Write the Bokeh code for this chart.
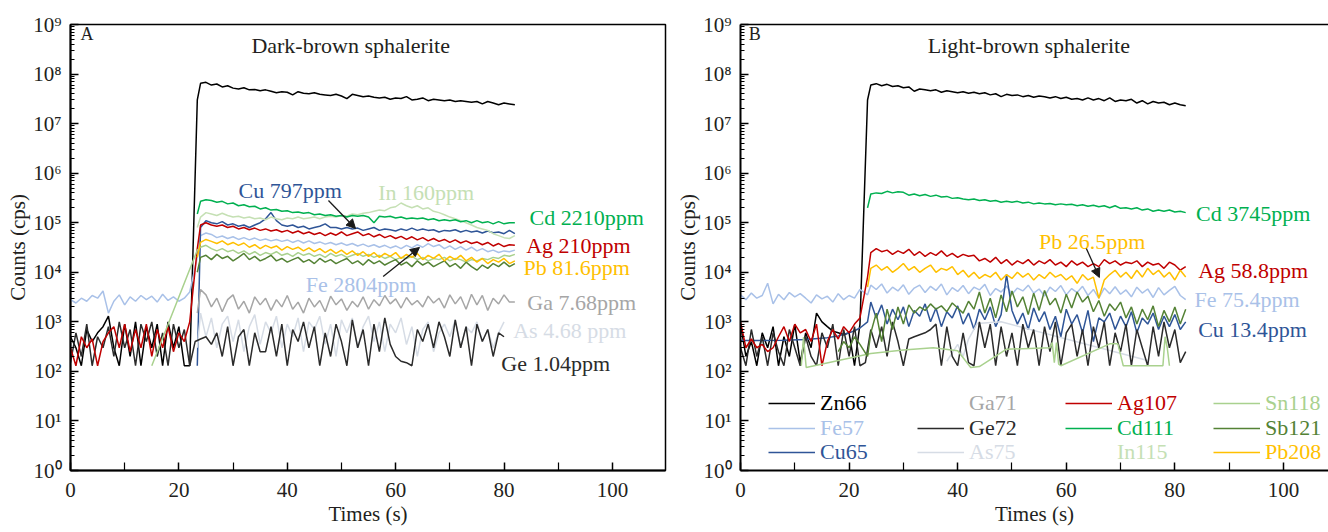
from bokeh.plotting import figure
from bokeh.layouts import row
from bokeh.models import (FixedTicker, Label, Arrow, NormalHead, Legend, LegendItem,
                          LinearAxis, Range1d)
from bokeh.embed import file_html
from bokeh.resources import INLINE

FONT = "'Liberation Serif'"
TXT = "#231f20"

# ---------------- colours ----------------
C_ZN = "#000000"; C_FE = "#a9c1e8"; C_CU = "#2f5597"; C_GA = "#a6a6a6"
C_GE = "#2b2b2b"; C_AS = "#d6dce5"; C_AG = "#c00000"; C_CD = "#00b050"
C_IN = "#c5e0b4"; C_SN = "#a9d18e"; C_SB = "#548235"; C_PB = "#ffc000"

# ---------------- time bases (s) ----------------
t_bg = list(range(0, 23))                      # gas blank 0..22 s
t_sig = [23.4] + list(range(24, 83))           # ablation 23.4..82 s
t_full = t_bg + t_sig

# ================= Panel A: dark-brown sphalerite =================
zn66_a = [500, 300, 130, 700, 400, 600, 800, 1300, 300, 130,
          900, 200, 1000, 130, 800, 300, 900, 130, 1000, 300,
          800, 130, 130,
          3.0e7, 6.5e7, 6.8e7, 6.0e7, 6.3e7, 5.5e7, 5.8e7, 5.2e7, 5.0e7, 5.3e7,
          4.8e7, 4.9e7, 4.6e7, 4.8e7, 4.5e7, 4.2e7, 4.4e7, 4.3e7, 3.8e7, 4.4e7,
          4.1e7, 4.0e7, 4.2e7, 3.9e7, 3.8e7, 3.7e7, 3.9e7, 3.6e7, 3.2e7, 3.9e7,
          3.7e7, 3.5e7, 3.6e7, 3.4e7, 3.3e7, 3.4e7, 3.1e7, 3.3e7, 3.2e7, 3.5e7,
          3.0e7, 3.1e7, 3.3e7, 2.9e7, 3.1e7, 3.0e7, 2.9e7, 3.0e7, 2.8e7, 2.9e7,
          2.8e7, 2.7e7, 2.8e7, 2.5e7, 2.8e7, 2.6e7, 2.4e7, 2.6e7, 2.5e7, 2.4e7]
fe57_a = [2800, 2400, 3000, 2600, 3400, 3000, 4200, 1500, 2600, 3500,
          2200, 3200, 2600, 3400, 2800, 3300, 2500, 3600, 2700, 3200,
          2600, 3000, 4000,
          2.0e4, 5.5e4, 6.2e4, 5.8e4, 5.0e4, 5.4e4, 4.8e4, 5.2e4, 4.6e4, 5.0e4,
          4.5e4, 4.9e4, 4.4e4, 4.7e4, 4.3e4, 4.6e4, 4.2e4, 4.5e4, 4.0e4, 4.4e4,
          3.9e4, 4.3e4, 3.8e4, 4.1e4, 3.7e4, 4.0e4, 3.6e4, 3.9e4, 3.5e4, 3.8e4,
          3.4e4, 3.7e4, 3.3e4, 3.6e4, 3.2e4, 3.5e4, 3.1e4, 3.4e4, 3.0e4, 3.5e4,
          3.1e4, 3.6e4, 3.2e4, 3.8e4, 3.3e4, 3.6e4, 3.0e4, 3.4e4, 2.9e4, 3.3e4,
          2.8e4, 3.2e4, 2.7e4, 3.0e4, 2.6e4, 2.8e4, 2.5e4, 2.7e4, 2.6e4, 2.8e4]
cu65_a = [130, 8.0e4, 1.1e5, 1.0e5, 9.5e4, 1.05e5, 9.0e4, 9.5e4, 8.5e4, 9.0e4,
          8.0e4, 9.0e4, 1.0e5, 1.2e5, 1.6e5, 1.1e5, 9.0e4, 8.5e4, 9.0e4, 8.0e4,
          8.5e4, 7.5e4, 8.0e4, 8.5e4, 9.5e4, 8.0e4, 8.0e4, 7.5e4, 8.0e4, 7.5e4,
          7.8e4, 7.0e4, 7.5e4, 8.0e4, 7.0e4, 7.5e4, 7.2e4, 6.8e4, 7.5e4, 7.0e4,
          7.8e4, 7.0e4, 7.5e4, 7.0e4, 7.2e4, 6.5e4, 7.0e4, 6.8e4, 7.2e4, 6.5e4,
          7.0e4, 6.5e4, 6.8e4, 6.2e4, 6.8e4, 6.3e4, 6.5e4, 6.0e4, 7.0e4, 6.0e4]
ga71_a = [1500, 4500, 3500, 2000, 3000, 1600, 2800, 3500, 1800, 2600,
          1500, 3200, 2200, 3000, 1700, 2800, 2000, 3400, 1800, 2500,
          1500, 3000, 2000, 2700, 1600, 3300, 2200, 2900, 1700, 2600,
          2000, 3200, 1800, 2800, 2100, 3400, 2300, 2900, 1900, 3100,
          2200, 2700, 2000, 3300, 2400, 3000, 1900, 3500, 2300, 3200,
          1800, 3600, 2200, 3400, 1700, 3000, 2300, 3500, 2500, 2500]
t_ge_a = list(range(0, 81))
ge72_a = [150, 600, 200, 900, 130, 500, 300, 800, 200, 1000,
          300, 700, 130, 900, 400, 1000, 200, 600, 130, 900,
          300, 700, 130, 400, 450, 500, 350, 600, 200, 800,
          130, 500, 700, 130, 600, 250, 250, 800, 200, 900,
          130, 700, 400, 1000, 300, 800, 130, 600, 200, 900,
          400, 130, 1100, 300, 700, 130, 900, 250, 1200, 350,
          200, 160, 150, 130, 700, 400, 900, 300, 1000, 500,
          200, 1100, 300, 800, 130, 900, 400, 700, 200, 600,
          500]
t_as_a = [23.4] + list(range(24, 81))
as75_a = [300, 1500, 500, 1200, 300, 900, 1300, 400, 1100, 250,
          800, 1400, 350, 1000, 600, 1300, 300, 900, 500, 1200,
          250, 1000, 700, 1300, 350, 900, 200, 1100, 600, 1200,
          300, 800, 1300, 400, 1000, 250, 900, 600, 1200, 350,
          800, 200, 700, 1000, 250, 600, 900, 500, 1100, 300,
          800, 600, 1000, 400, 700, 300, 600, 1000]
ag107_a = [300, 130, 500, 300, 450, 130, 400, 600, 800, 300,
           900, 250, 700, 300, 900, 200, 700, 300, 800, 250,
           600, 400, 1000,
           3.0e4, 9.0e4, 1.0e5, 9.0e4, 8.5e4, 9.0e4, 8.0e4, 8.5e4, 7.5e4, 8.0e4,
           7.2e4, 7.8e4, 7.0e4, 7.5e4, 6.8e4, 7.2e4, 6.5e4, 7.0e4, 6.2e4, 6.8e4,
           6.0e4, 6.5e4, 5.8e4, 6.3e4, 5.5e4, 6.2e4, 5.6e4, 6.5e4, 5.5e4, 6.0e4,
           6.5e4, 5.5e4, 6.0e4, 5.2e4, 5.8e4, 5.0e4, 5.5e4, 4.8e4, 5.3e4, 4.6e4,
           5.2e4, 4.5e4, 5.0e4, 4.3e4, 4.8e4, 4.2e4, 4.6e4, 4.0e4, 4.5e4, 3.9e4,
           4.3e4, 3.8e4, 4.1e4, 3.6e4, 4.0e4, 3.4e4, 3.8e4, 3.3e4, 3.6e4, 3.5e4]
cd111_a = [1.5e5, 2.7e5, 2.9e5, 2.8e5, 2.6e5, 2.7e5, 2.4e5, 2.5e5, 2.2e5, 2.3e5,
           2.1e5, 2.15e5, 1.9e5, 2.0e5, 1.8e5, 1.85e5, 1.7e5, 1.75e5, 1.6e5, 1.65e5,
           1.55e5, 1.6e5, 1.45e5, 1.5e5, 1.4e5, 1.45e5, 1.35e5, 1.4e5, 1.3e5, 1.4e5,
           1.35e5, 1.4e5, 1.3e5, 1.0e5, 1.35e5, 1.3e5, 1.35e5, 1.25e5, 1.3e5, 1.2e5,
           1.25e5, 1.2e5, 1.25e5, 1.15e5, 1.2e5, 1.1e5, 1.15e5, 1.1e5, 1.15e5, 1.05e5,
           1.1e5, 1.0e5, 1.1e5, 1.0e5, 1.05e5, 9.5e4, 1.05e5, 9.5e4, 1.0e5, 1.0e5]
in115_a = [8.0e4, 1.3e5, 1.6e5, 1.5e5, 1.4e5, 1.55e5, 1.4e5, 1.3e5, 1.35e5, 1.25e5,
           1.3e5, 1.2e5, 1.25e5, 1.15e5, 1.3e5, 1.2e5, 1.15e5, 1.25e5, 1.2e5, 1.3e5,
           1.2e5, 1.25e5, 1.3e5, 1.2e5, 1.3e5, 1.35e5, 1.3e5, 1.4e5, 1.35e5, 1.5e5,
           1.45e5, 1.55e5, 1.6e5, 1.7e5, 1.8e5, 1.75e5, 2.0e5, 2.1e5, 2.5e5, 2.2e5,
           2.0e5, 2.2e5, 1.9e5, 2.0e5, 1.7e5, 1.6e5, 1.45e5, 1.3e5, 1.2e5, 1.1e5,
           1.0e5, 9.0e4, 8.0e4, 7.5e4, 7.0e4, 6.0e4, 5.5e4, 5.0e4, 4.8e4, 5.5e4]
t_sn_a = [15] + t_sig
sn118_a = [130,
           2.8e4, 3.2e4, 3.5e4, 3.0e4, 2.7e4, 3.0e4, 2.6e4, 2.8e4, 2.4e4, 2.7e4,
           2.3e4, 2.6e4, 2.2e4, 2.5e4, 2.3e4, 2.6e4, 2.2e4, 2.4e4, 2.1e4, 2.5e4,
           2.2e4, 2.4e4, 2.1e4, 2.3e4, 2.0e4, 2.4e4, 2.1e4, 2.3e4, 2.0e4, 2.2e4,
           2.4e4, 2.1e4, 2.3e4, 2.0e4, 2.2e4, 1.9e4, 2.1e4, 1.8e4, 2.0e4, 1.9e4,
           2.1e4, 1.8e4, 2.0e4, 1.7e4, 1.9e4, 1.8e4, 2.0e4, 1.7e4, 1.9e4, 1.8e4,
           1.6e4, 1.8e4, 1.7e4, 1.9e4, 1.8e4, 2.0e4, 1.9e4, 2.2e4, 2.1e4, 2.3e4]
sb121_a = [1.0e4, 2.0e4, 2.2e4, 1.8e4, 2.3e4, 1.9e4, 2.1e4, 1.7e4, 2.0e4, 2.4e4,
           1.8e4, 2.1e4, 1.7e4, 1.9e4, 2.2e4, 1.7e4, 1.9e4, 1.6e4, 1.8e4, 2.0e4,
           1.6e4, 1.8e4, 1.5e4, 1.9e4, 1.6e4, 1.8e4, 1.5e4, 1.7e4, 1.9e4, 1.5e4,
           1.7e4, 1.4e4, 1.8e4, 1.5e4, 1.7e4, 1.4e4, 1.6e4, 1.8e4, 1.4e4, 1.6e4,
           1.3e4, 1.7e4, 1.4e4, 1.6e4, 1.3e4, 1.5e4, 1.7e4, 1.3e4, 1.5e4, 1.2e4,
           1.6e4, 1.3e4, 1.1e4, 1.4e4, 1.2e4, 1.5e4, 1.3e4, 1.6e4, 1.3e4, 1.5e4]
pb208_a = [2.0e4, 4.0e4, 4.6e4, 4.2e4, 3.8e4, 4.3e4, 3.6e4, 4.0e4, 3.5e4, 3.9e4,
           3.2e4, 3.6e4, 3.0e4, 3.5e4, 3.1e4, 3.4e4, 2.8e4, 3.3e4, 2.9e4, 3.2e4,
           2.7e4, 3.1e4, 2.6e4, 3.0e4, 2.5e4, 2.9e4, 2.4e4, 2.8e4, 2.3e4, 2.7e4,
           2.2e4, 2.6e4, 2.1e4, 2.5e4, 2.0e4, 2.4e4, 2.1e4, 2.5e4, 1.9e4, 2.3e4,
           2.0e4, 2.4e4, 1.8e4, 2.2e4, 1.9e4, 2.3e4, 1.7e4, 2.1e4, 1.8e4, 2.2e4,
           1.7e4, 2.0e4, 1.6e4, 1.9e4, 1.5e4, 1.8e4, 1.6e4, 1.9e4, 1.5e4, 1.7e4]

# ================= Panel B: light-brown sphalerite =================
zn66_b = [900, 200, 400, 130, 600, 300, 800, 130, 500, 200,
          900, 150, 600, 300, 1500, 1000, 800, 650, 600, 550,
          600, 130, 900,
          3.0e7, 6.0e7, 6.4e7, 5.8e7, 6.2e7, 5.6e7, 5.8e7, 5.3e7, 5.5e7, 4.5e7,
          5.0e7, 4.8e7, 4.6e7, 4.8e7, 4.3e7, 4.6e7, 4.4e7, 4.2e7, 4.4e7, 4.1e7,
          4.3e7, 4.0e7, 4.2e7, 3.8e7, 4.0e7, 3.5e7, 3.9e7, 3.7e7, 3.8e7, 3.5e7,
          3.7e7, 3.4e7, 3.6e7, 3.5e7, 3.3e7, 3.5e7, 3.2e7, 3.4e7, 3.1e7, 3.2e7,
          3.0e7, 3.3e7, 3.0e7, 3.2e7, 2.9e7, 3.3e7, 2.8e7, 3.0e7, 2.9e7, 3.1e7,
          2.6e7, 2.9e7, 2.5e7, 2.8e7, 2.6e7, 2.7e7, 2.4e7, 2.6e7, 2.4e7, 2.3e7]
fe57_b = [3500, 2800, 3800, 3000, 3400, 6000, 2300, 3600, 2800, 3900,
          3200, 3700, 3000, 2400, 3500, 2900, 3300, 2500, 3700, 2800,
          3400, 3000, 4500,
          3500, 5500, 4500, 5800, 3800, 5000, 4200, 5600, 3600, 4800,
          5500, 3900, 5200, 4300, 5800, 3500, 4900, 4100, 5400, 3700,
          5000, 4400, 5700, 3400, 4700, 4000, 5300, 3600, 4800, 4200,
          5500, 3800, 4600, 3300, 5000, 4100, 5400, 3500, 4700, 3900,
          5200, 3400, 4500, 3000, 4800, 3700, 5100, 3600, 4400, 3200,
          5000, 3800, 4600, 3100, 4900, 3500, 4300, 5200, 3400, 2800]
t_cu_b = [0, 4, 8, 12, 16, 18, 20, 21, 22] + t_sig
cu65_b = [420, 420, 425, 440, 480, 520, 600, 660, 750,
          1000, 2500, 1200, 2200, 900, 1800, 1100, 2000, 800, 1700,
          1300, 2300, 1000, 1900, 800, 1600, 1200, 2100, 900, 1500,
          700, 1800, 1100, 2000, 800, 1400, 9000, 1700, 900, 1500,
          700, 1900, 1000, 1600, 700, 1300, 500, 1800, 900, 1400,
          600, 1700, 400, 1200, 1000, 1500, 700, 1300, 800, 1600,
          600, 1200, 900, 1500, 700, 1300, 800, 1400, 700, 1000]
ga71_b = []
t_ga_b = []
t_ge_b = list(range(0, 83))
ge72_b = [300, 130, 700, 200, 500, 130, 600, 250, 130, 700,
          300, 130, 500, 200, 130, 600, 300, 900, 130, 700,
          200, 800, 130, 150, 700, 300, 800, 200, 1000, 400,
          130, 450, 500, 550, 600, 700, 900, 130, 800, 200,
          130, 600, 150, 130, 1000, 300, 900, 130, 800, 200,
          600, 130, 900, 300, 700, 130, 800, 250, 1000, 130,
          600, 900, 200, 700, 130, 800, 300, 1000, 130, 600,
          250, 900, 130, 700, 300, 130, 800, 200, 1000, 300,
          700, 150, 250]
t_as_b = [38, 40, 41, 42, 43.6, 48, 75]
as75_b = [160, 350, 200, 450, 930, 1000, 166]
ag107_b = [1000, 300, 450, 300, 350, 250, 300, 500, 800, 400,
           900, 600, 700, 400, 900, 130, 400, 700, 450, 800,
           600, 900, 1200,
           8000, 2.5e4, 3.0e4, 2.6e4, 2.8e4, 2.3e4, 2.7e4, 2.4e4, 2.9e4, 2.2e4,
           2.6e4, 2.1e4, 2.5e4, 2.2e4, 2.7e4, 2.1e4, 2.4e4, 2.0e4, 2.3e4, 2.1e4,
           2.2e4, 1.7e4, 1.9e4, 1.6e4, 2.0e4, 1.5e4, 1.8e4, 1.4e4, 1.7e4, 1.5e4,
           1.8e4, 1.4e4, 1.7e4, 1.5e4, 1.8e4, 1.4e4, 1.6e4, 1.3e4, 1.7e4, 1.4e4,
           1.6e4, 1.3e4, 1.5e4, 1.3e4, 1.8e4, 1.5e4, 1.7e4, 1.4e4, 1.6e4, 1.5e4,
           1.7e4, 1.3e4, 1.6e4, 1.4e4, 1.5e4, 1.2e4, 1.6e4, 1.4e4, 1.1e4, 1.3e4]
cd111_b = [2.0e5, 3.8e5, 4.0e5, 3.9e5, 4.3e5, 4.0e5, 4.2e5, 4.1e5, 3.6e5, 3.8e5,
           3.5e5, 3.7e5, 3.4e5, 3.6e5, 3.3e5, 3.4e5, 3.1e5, 3.2e5, 3.0e5, 2.9e5,
           3.0e5, 2.8e5, 2.9e5, 2.7e5, 2.8e5, 2.6e5, 2.7e5, 2.6e5, 2.7e5, 2.5e5,
           2.6e5, 2.4e5, 2.5e5, 2.4e5, 2.45e5, 2.3e5, 2.4e5, 2.3e5, 2.35e5, 2.2e5,
           2.3e5, 2.15e5, 2.25e5, 2.1e5, 2.2e5, 2.0e5, 2.2e5, 1.95e5, 2.0e5, 1.9e5,
           2.0e5, 1.8e5, 1.9e5, 1.7e5, 1.8e5, 1.7e5, 1.8e5, 1.65e5, 1.7e5, 1.6e5]
in115_b = []
t_in_b = []
t_sn_b = [11.2, 11.6, 12.1, 24, 30, 35.5, 40, 42.4, 44, 49, 57, 57.4, 57.8, 58.2,
          58.6, 59, 68, 69.5, 70.5, 77.8, 78.2, 78.6, 79]
sn118_b = [130, 490, 120, 230, 270, 300, 260, 120, 125, 280, 300, 380, 150, 380,
           140, 130, 360, 360, 130, 130, 500, 300, 130]
t_sb_b = [18, 19, 20, 21, 22] + t_sig
sb121_b = [250, 400, 300, 500, 350,
           200, 600, 1500, 400, 1800, 700, 2000, 900, 2200, 1500,
           2000, 1700, 2300, 1800, 2100, 1600, 2400, 1900, 1500, 2600,
           1800, 4000, 1500, 3000, 1200, 3500, 1600, 4200, 2000, 3200,
           1400, 3800, 1700, 4300, 2200, 3000, 1500, 3600, 1900, 4000,
           2500, 3300, 1600, 2700, 1300, 2300, 1700, 2500, 1200, 2000,
           900, 1800, 1100, 2100, 800, 1700, 1000, 2000, 900, 1800]
pb208_b = [5000, 1.2e4, 1.4e4, 1.1e4, 1.3e4, 1.0e4, 1.2e4, 1.5e4, 1.1e4, 1.3e4,
           1.0e4, 1.2e4, 1.4e4, 1.0e4, 1.2e4, 1.1e4, 1.3e4, 9000, 1.1e4, 8000,
           1.0e4, 7500, 9000, 8000, 1.0e4, 7000, 9000, 7500, 1.0e4, 8000,
           9500, 7000, 9000, 7500, 1.0e4, 8000, 9000, 7000, 8500, 6000,
           9000, 7000, 8000, 3000, 7000, 9000, 1.1e4, 8000, 1.0e4, 7500,
           1.1e4, 8000, 1.2e4, 9000, 1.1e4, 8000, 1.0e4, 7000, 1.1e4, 8000]

# tick labels
x_ticks = [0, 20, 40, 60, 80, 100]
x_minor = [10, 30, 50, 70, 90]
y_exps = list(range(0, 10))
SUP = str.maketrans("0123456789", "\u2070\u00b9\u00b2\u00b3\u2074\u2075\u2076\u2077\u2078\u2079")
y_labels = {10 ** n: "10" + str(n).translate(SUP) for n in y_exps}


def check(name, x, y):
    if len(x) != len(y):
        raise ValueError(f"{name}: {len(x)} vs {len(y)}")


def make_fig(width, xmax, border_right, outline):
    p = figure(width=width, height=532, y_axis_type="log",
               x_range=Range1d(0, xmax), y_range=Range1d(1, 1e9),
               output_backend="svg", toolbar_location=None,
               min_border_left=70, min_border_right=border_right,
               min_border_top=24, min_border_bottom=62)
    p.xgrid.visible = False
    p.ygrid.visible = False
    p.background_fill_color = "white"
    p.border_fill_color = "white"
    xa = p.below[0]
    ya = p.left[0]
    xa.ticker = FixedTicker(ticks=x_ticks, minor_ticks=x_minor)
    ya.ticker = FixedTicker(ticks=[10 ** n for n in y_exps],
                            minor_ticks=[k * 10 ** n for n in y_exps[:-1] for k in range(2, 10)])
    ya.major_label_overrides = y_labels
    for ax in (xa, ya):
        ax.axis_line_width = 2
        ax.axis_line_color = "black"
        ax.major_tick_in = 8
        ax.major_tick_out = 0
        ax.major_tick_line_width = 1.5
        ax.minor_tick_line_width = 1.2
        ax.major_label_text_font = FONT
        ax.major_label_text_font_size = "21px"
        ax.major_label_text_color = TXT
        ax.axis_label_text_font = FONT
        ax.axis_label_text_font_size = "21px"
        ax.axis_label_text_font_style = "normal"
        ax.axis_label_text_color = TXT
    xa.minor_tick_in = 8
    xa.minor_tick_out = 0
    ya.minor_tick_in = 4
    ya.minor_tick_out = 0
    xa.major_label_standoff = 12
    xa.axis_label_standoff = 2
    ya.major_label_standoff = 9
    ya.axis_label_standoff = 0
    xa.axis_label = "Times (s)"
    ya.axis_label = "Counts (cps)"
    if outline:
        p.outline_line_color = "black"
        p.outline_line_width = 1.5
    else:
        p.outline_line_color = None
        top = LinearAxis(ticker=FixedTicker(ticks=[]), axis_line_width=1.5,
                         axis_line_color="black", major_tick_line_color=None,
                         minor_tick_line_color=None, major_label_text_font_size="0px",
                         major_label_standoff=0, major_tick_out=0, major_tick_in=0)
        p.add_layout(top, "above")
    return p


def add(p, name, x, y, color, width=1.5):
    check(name, x, y)
    return p.line(x=x, y=y, line_color=color, line_width=width)


def label(p, x, y, text, color, size="22px", align="left"):
    p.add_layout(Label(x=x, y=y, text=text, text_font=FONT, text_font_size=size,
                       text_color=color, text_baseline="middle", text_align=align))


def arrow(p, x0, y0, x1, y1):
    p.add_layout(Arrow(x_start=x0, y_start=y0, x_end=x1, y_end=y1,
                       line_color="#1a1a1a", line_width=1.3,
                       end=NormalHead(size=9, fill_color="#1a1a1a", line_color="#1a1a1a")))


# ---------------- Panel A ----------------
pa = make_fig(670, 109.8, 5, True)
add(pa, "zn66_a", t_full, zn66_a, C_ZN)
add(pa, "fe57_a", t_full, fe57_a, C_FE)
add(pa, "cu65_a", t_sig, cu65_a, C_CU)
add(pa, "ga71_a", t_sig, ga71_a, C_GA)
add(pa, "as75_a", t_as_a, as75_a, C_AS)
add(pa, "ge72_a", t_ge_a, ge72_a, C_GE)
add(pa, "ag107_a", t_full, ag107_a, C_AG)
add(pa, "in115_a", t_sig, in115_a, C_IN)
add(pa, "cd111_a", t_sig, cd111_a, C_CD)
add(pa, "sn118_a", t_sn_a, sn118_a, C_SN)
add(pa, "sb121_a", t_sig, sb121_a, C_SB)
add(pa, "pb208_a", t_sig, pb208_a, C_PB)

label(pa, 1.85, 6.3e8, "A", TXT, size="18px")
label(pa, 51.7, 3.78e8, "Dark-brown sphalerite", TXT, align="center")
label(pa, 31.0, 4.5e5, "Cu 797ppm", C_CU)
label(pa, 56.8, 4.1e5, "In 160ppm", C_IN)
label(pa, 84.7, 1.28e5, "Cd 2210ppm", C_CD)
label(pa, 84.1, 3.5e4, "Ag 210ppm", C_AG)
label(pa, 83.6, 1.25e4, "Pb 81.6ppm", C_PB)
label(pa, 43.4, 5.7e3, "Fe 2804ppm", C_FE)
label(pa, 84.3, 2.46e3, "Ga 7.68ppm", C_GA)
label(pa, 81.7, 670, "As 4.68 ppm", C_AS)
label(pa, 79.5, 145, "Ge 1.04ppm", C_GE)
arrow(pa, 47.6, 2.81e5, 52.6, 7.65e4)
arrow(pa, 57.7, 8.2e3, 64.4, 3.17e4)

# ---------------- Panel B ----------------
pb = make_fig(658, 108.3, 0, False)
r_zn = add(pb, "zn66_b", t_full, zn66_b, C_ZN)
r_fe = add(pb, "fe57_b", t_full, fe57_b, C_FE)
r_cu = add(pb, "cu65_b", t_cu_b, cu65_b, C_CU)
r_ga = add(pb, "ga71_b", t_ga_b, ga71_b, C_GA)
r_as = add(pb, "as75_b", t_as_b, as75_b, C_AS)
r_ge = add(pb, "ge72_b", t_ge_b, ge72_b, C_GE)
r_ag = add(pb, "ag107_b", t_full, ag107_b, C_AG)
r_in = add(pb, "in115_b", t_in_b, in115_b, C_IN)
r_cd = add(pb, "cd111_b", t_sig, cd111_b, C_CD)
r_sn = add(pb, "sn118_b", t_sn_b, sn118_b, C_SN)
r_sb = add(pb, "sb121_b", t_sb_b, sb121_b, C_SB)
r_pb = add(pb, "pb208_b", t_sig, pb208_b, C_PB)

label(pb, 1.5, 6.3e8, "B", TXT, size="18px")
label(pb, 53.1, 3.78e8, "Light-brown sphalerite", TXT, align="center")
label(pb, 83.9, 1.54e5, "Cd 3745ppm", C_CD)
label(pb, 55.0, 4.2e4, "Pb 26.5ppm", C_PB)
label(pb, 84.3, 1.09e4, "Ag 58.8ppm", C_AG)
label(pb, 83.6, 2.83e3, "Fe 75.4ppm", C_FE)
label(pb, 84.3, 700, "Cu 13.4ppm", C_CU)
arrow(pb, 63.7, 3.02e4, 66.1, 7.85e3)

legend_cols = [28, 177, 325, 473]
legend_rows = [54, 29, 5]
legend_items = [
    [("Zn66", r_zn, C_ZN), ("Fe57", r_fe, C_FE), ("Cu65", r_cu, C_CU)],
    [("Ga71", r_ga, C_GA), ("Ge72", r_ge, C_GE), ("As75", r_as, C_AS)],
    [("Ag107", r_ag, C_AG), ("Cd111", r_cd, C_CD), ("In115", r_in, C_IN)],
    [("Sn118", r_sn, C_SN), ("Sb121", r_sb, C_SB), ("Pb208", r_pb, C_PB)],
]
for ci, col in enumerate(legend_items):
    for ri, (name, rend, color) in enumerate(col):
        leg = Legend(items=[LegendItem(label=name, renderers=[rend])],
                     location=(legend_cols[ci], legend_rows[ri]),
                     margin=0, padding=0, spacing=0,
                     glyph_width=47, glyph_height=24, label_height=24,
                     label_standoff=5, label_text_font=FONT,
                     label_text_font_size="22px", label_text_color=color,
                     border_line_color=None, background_fill_alpha=0)
        pb.add_layout(leg)

layout = row(pa, pb)
open("out.html", "w").write(file_html(layout, INLINE))
